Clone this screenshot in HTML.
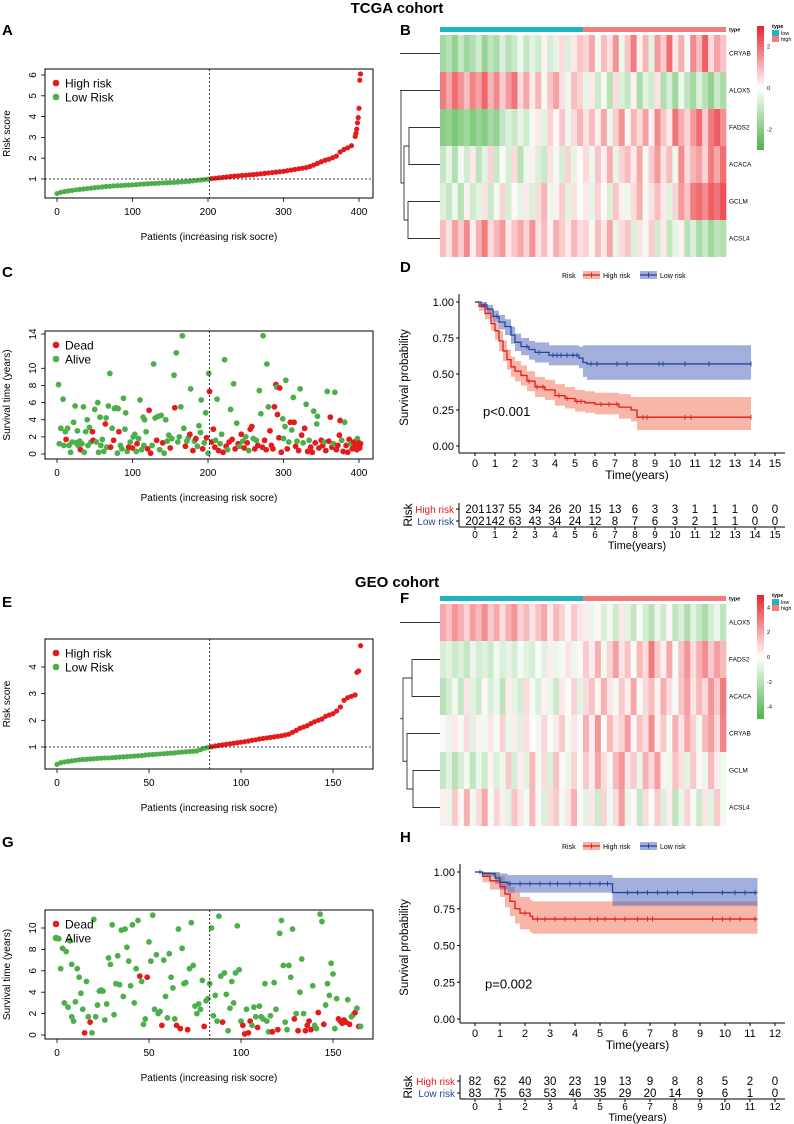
<!DOCTYPE html>
<html><head><meta charset="utf-8">
<style>
html,body{margin:0;padding:0;background:#fff;}
svg{display:block;font-family:"Liberation Sans",Arial,sans-serif;}
</style></head>
<body>
<svg id="fig" width="794" height="1124" viewBox="0 0 794 1124" xmlns="http://www.w3.org/2000/svg">
<text x="397" y="13" text-anchor="middle" font-size="15" font-weight="bold">TCGA cohort</text>
<text x="397" y="587" text-anchor="middle" font-size="15" font-weight="bold">GEO cohort</text>
<text x="2" y="35" font-size="15" font-weight="bold">A</text>
<text x="400" y="35" font-size="15" font-weight="bold">B</text>
<text x="2" y="277" font-size="15" font-weight="bold">C</text>
<text x="400" y="272" font-size="15" font-weight="bold">D</text>
<text x="2" y="607" font-size="15" font-weight="bold">E</text>
<text x="400" y="603" font-size="15" font-weight="bold">F</text>
<text x="2" y="847" font-size="15" font-weight="bold">G</text>
<text x="400" y="842" font-size="15" font-weight="bold">H</text>
</svg>
<script>
// ---------- DATA ----------
const tcgaRisk = [[0,0.30],[5,0.36],[10,0.40],[15,0.43],[20,0.45],[25,0.48],[30,0.50],[35,0.52],[40,0.54],[45,0.56],[50,0.58],[55,0.60],[60,0.62],[65,0.64],[70,0.65],[75,0.67],[80,0.68],[85,0.69],[90,0.70],[95,0.71],[100,0.72],[105,0.73],[110,0.75],[115,0.76],[120,0.77],[125,0.78],[130,0.79],[135,0.80],[140,0.81],[145,0.82],[150,0.83],[155,0.84],[160,0.85],[165,0.86],[170,0.88],[175,0.89],[180,0.91],[185,0.93],[190,0.95],[195,0.97],[200,0.99],[205,1.02],[210,1.04],[215,1.06],[220,1.08],[225,1.10],[230,1.12],[235,1.14],[240,1.15],[245,1.17],[250,1.18],[255,1.20],[260,1.21],[265,1.23],[270,1.25],[275,1.27],[280,1.29],[285,1.31],[290,1.33],[295,1.35],[300,1.37],[305,1.40],[310,1.43],[315,1.46],[320,1.49],[325,1.52],[330,1.55],[335,1.60],[340,1.67],[345,1.75],[350,1.83],[355,1.90],[360,1.95],[365,2.02],[370,2.10],[375,2.30],[380,2.42],[385,2.50],[390,2.60],[395,3.05],[396,3.2],[397,3.4],[398,3.7],[399,3.95],[400,4.40],[401,5.75],[402,6.05]];
const tcgaCut = 202;
const geoRisk = [[0,0.35],[2,0.41],[4,0.44],[6,0.46],[8,0.48],[10,0.50],[12,0.52],[14,0.53],[16,0.54],[18,0.55],[20,0.56],[22,0.57],[24,0.58],[26,0.59],[28,0.59],[30,0.60],[32,0.61],[34,0.62],[36,0.63],[38,0.64],[40,0.65],[42,0.66],[44,0.67],[46,0.68],[48,0.70],[50,0.71],[52,0.72],[54,0.73],[56,0.74],[58,0.75],[60,0.76],[62,0.77],[64,0.78],[66,0.80],[68,0.81],[70,0.82],[72,0.83],[74,0.84],[76,0.85],[78,0.90],[80,0.95],[82,0.98],[84,1.01],[86,1.04],[88,1.06],[90,1.08],[92,1.10],[94,1.12],[96,1.14],[98,1.16],[100,1.18],[102,1.20],[104,1.22],[106,1.25],[108,1.27],[110,1.30],[112,1.32],[114,1.34],[116,1.36],[118,1.38],[120,1.40],[122,1.42],[124,1.45],[126,1.48],[128,1.55],[130,1.62],[132,1.70],[134,1.75],[136,1.80],[138,1.88],[140,1.95],[142,2.00],[144,2.05],[146,2.15],[148,2.20],[150,2.25],[152,2.35],[154,2.50],[156,2.75],[158,2.85],[160,2.90],[162,2.95],[163,3.80],[164,3.85],[165,4.80]];
const geoCut = 83;

const tcgaSurv = [[2,8.1,0],[3,1.2,0],[5,3.0,0],[8,6.4,0],[9,1.0,0],[11,2.6,0],[12,1.7,1],[14,3.0,0],[16,1.0,0],[18,0.2,0],[20,1.4,0],[22,3.7,0],[24,5.6,0],[25,1.3,0],[27,2.7,0],[28,1.0,0],[30,1.5,0],[31,0.5,1],[33,1.2,0],[35,5.5,0],[36,0.2,0],[38,2.6,0],[40,4.0,0],[41,1.0,0],[43,3.1,0],[45,1.4,0],[47,2.6,1],[48,1.6,1],[50,5.2,0],[52,1.4,0],[54,6.0,0],[55,0.2,0],[57,4.3,0],[58,1.0,0],[60,1.7,0],[62,0.3,0],[64,3.5,1],[65,4.2,0],[66,0.8,0],[68,5.6,0],[70,9.4,0],[71,0.8,1],[73,3.0,0],[75,1.6,1],[76,5.3,0],[78,5.4,0],[80,0.1,0],[81,5.3,0],[82,2.6,1],[84,1.0,0],[86,0.6,0],[88,6.5,0],[90,2.9,0],[91,4.8,0],[93,0.3,0],[95,0.8,1],[97,1.4,0],[100,0.7,1],[101,2.0,0],[103,2.3,0],[105,0.3,0],[106,1.2,1],[108,1.8,0],[110,6.3,0],[112,0.5,0],[114,4.3,0],[115,1.0,0],[116,4.0,0],[118,2.6,0],[120,0.6,1],[122,5.1,1],[124,0.1,1],[126,1.0,0],[128,10.5,0],[130,4.2,0],[132,1.6,1],[134,4.4,0],[136,0.5,0],[138,4.5,0],[140,1.3,1],[142,0.1,0],[144,4.0,0],[146,1.5,0],[148,2.2,0],[150,0.7,1],[152,1.8,0],[155,9.2,0],[156,5.4,1],[158,11.8,0],[160,1.4,0],[162,2.0,0],[164,5.5,0],[166,13.8,0],[168,3.0,0],[170,0.9,1],[172,1.5,0],[174,1.9,0],[176,2.3,1],[177,7.6,0],[180,0.4,1],[182,1.5,0],[184,1.8,1],[186,0.9,0],[188,3.3,0],[190,2.5,0],[191,6.3,0],[193,0.6,1],[195,1.3,0],[197,4.8,0],[198,1.9,1],[200,0.1,0],[201,9.4,0],[202,7.3,1],[205,1.4,1],[207,2.9,1],[209,0.8,1],[210,1.6,0],[212,6.4,0],[214,0.4,1],[216,1.2,0],[218,2.3,0],[220,0.2,1],[222,11.0,0],[224,0.9,1],[226,0.5,0],[228,1.4,1],[230,5.2,0],[232,1.7,1],[234,8.2,0],[236,0.6,1],[238,3.6,0],[240,1.2,1],[242,0.9,0],[244,2.3,1],[246,1.5,0],[248,0.7,1],[250,2.0,0],[252,1.3,1],[254,0.4,0],[256,2.9,1],[258,3.2,1],[260,1.8,0],[262,0.6,1],[264,1.6,0],[266,1.0,1],[268,7.4,0],[270,4.7,0],[272,0.8,1],[273,13.8,0],[275,1.6,1],[277,0.5,1],[278,10.5,0],[280,5.5,0],[282,2.7,1],[284,1.0,1],[286,0.6,1],[288,5.5,1],[290,8.1,1],[291,7.8,0],[292,4.6,1],[294,1.9,1],[295,7.7,1],[297,0.2,1],[299,4.1,0],[300,1.8,0],[302,3.2,0],[303,8.6,0],[305,0.6,1],[307,1.4,0],[309,3.7,1],[311,2.8,0],[313,6.6,0],[314,3.7,1],[316,0.9,1],[318,1.5,0],[320,0.4,1],[322,7.6,0],[324,2.2,1],[326,1.3,0],[328,3.0,1],[330,5.8,0],[332,0.3,1],[334,1.6,0],[336,0.8,1],[338,0.2,1],[340,5.0,0],[342,1.3,1],[344,3.5,0],[345,4.4,0],[347,0.7,1],[350,1.6,1],[352,1.0,1],[354,1.4,0],[356,0.4,1],[358,7.3,0],[360,1.5,1],[362,4.3,1],[364,0.8,1],[366,1.2,0],[368,7.2,0],[370,0.5,1],[372,1.0,1],[374,2.2,1],[375,3.9,1],[377,1.6,0],[379,0.3,1],[381,3.7,0],[383,1.0,1],[385,0.2,1],[387,1.7,1],[389,1.2,0],[391,0.6,1],[393,1.4,1],[395,0.9,1],[397,0.5,1],[398,1.8,0],[399,1.0,1],[400,1.3,1],[401,0.7,1],[402,1.2,1]];
const geoSurv = [[1,9.0,0],[2,6.2,0],[3,8.1,0],[4,3.0,0],[5,7.8,0],[6,2.6,0],[7,8.8,0],[8,6.6,0],[8,1.7,0],[9,1.3,0],[10,3.1,0],[11,6.2,0],[12,5.4,0],[13,3.9,0],[14,2.4,0],[15,0.2,1],[16,5.0,0],[17,1.7,0],[18,1.2,1],[19,0.2,0],[20,10.8,0],[21,1.7,0],[22,2.8,0],[23,4.1,0],[24,4.2,0],[25,4.1,0],[26,1.4,0],[27,2.9,0],[28,7.2,0],[29,6.6,0],[30,10.3,0],[31,1.9,0],[32,4.8,0],[33,7.4,0],[34,4.7,0],[35,9.8,0],[36,3.6,0],[37,9.9,0],[38,8.2,0],[39,6.9,0],[40,4.6,0],[41,10.3,0],[42,3.0,0],[43,6.2,0],[44,10.7,0],[45,5.5,1],[46,5.0,0],[47,1.0,0],[48,1.5,0],[49,5.4,1],[50,8.7,0],[51,6.9,0],[52,11.2,0],[53,2.4,0],[54,7.5,0],[55,2.0,0],[56,2.2,0],[57,0.9,1],[58,7.0,0],[59,3.6,0],[60,1.6,0],[61,7.6,0],[62,5.4,0],[63,4.4,0],[64,1.5,0],[65,0.9,1],[66,9.9,0],[67,0.6,1],[68,8.1,0],[69,4.8,0],[70,4.9,0],[71,0.5,1],[72,6.2,0],[73,10.5,0],[74,6.5,0],[75,2.7,0],[76,2.0,0],[77,2.9,0],[78,2.4,0],[79,5.1,0],[80,0.8,1],[81,3.2,0],[82,3.4,0],[83,4.8,0],[84,10.0,0],[85,1.8,0],[86,3.7,0],[87,1.3,0],[88,11.1,0],[89,5.5,0],[90,1.2,1],[91,5.8,0],[92,3.8,0],[93,0.4,0],[94,2.5,0],[95,5.0,0],[96,3.0,0],[97,5.8,0],[98,10.2,0],[99,6.1,0],[100,1.3,0],[101,0.9,1],[102,0.1,1],[103,2.4,0],[104,0.2,1],[105,1.3,1],[106,0.9,0],[107,2.6,0],[108,1.7,0],[109,0.7,1],[110,2.7,0],[111,1.7,0],[112,1.5,0],[113,4.8,0],[114,1.3,0],[115,0.3,0],[116,1.8,0],[117,0.3,1],[118,4.9,0],[119,2.4,0],[120,0.5,1],[121,9.5,0],[122,10.7,0],[123,6.5,0],[124,1.2,0],[125,0.5,0],[126,6.5,0],[127,5.4,0],[128,9.9,0],[129,1.5,1],[130,2.0,0],[131,0.4,1],[132,4.0,0],[133,7.1,0],[134,2.0,0],[135,0.4,1],[136,0.9,1],[137,1.3,1],[138,0.5,1],[139,4.6,0],[140,0.9,0],[141,0.6,0],[142,2.1,1],[143,11.3,0],[144,10.6,0],[145,1.0,1],[146,2.8,0],[147,4.8,0],[148,3.7,0],[149,6.7,0],[150,5.7,0],[151,0.6,0],[152,3.4,0],[153,1.5,1],[154,1.3,1],[155,1.1,1],[156,1.4,1],[157,1.2,1],[158,3.3,0],[159,1.0,1],[160,1.7,0],[161,1.9,0],[162,2.1,1],[163,2.5,0],[164,0.8,1],[165,0.8,0]];

const tcgaGenes = ["CRYAB","ALOX5","FADS2","ACACA","GCLM","ACSL4"];
const tcgaHeat = [
[-1.5,-1.2,-1.8,-1.0,-1.6,-1.3,-0.8,-1.7,-1.1,-1.4,-0.6,-1.2,-0.9,-0.3,-1.0,-0.5,-0.8,0.2,-0.7,-0.4,0.5,-0.6,0.3,0.8,0.6,1.2,-0.2,0.9,0.4,1.5,-0.3,0.8,1.8,0.2,1.0,-0.5,1.4,0.7,2.0,0.3,1.1,-0.2,1.6,0.9,2.2,0.5,1.3,0.8],
[1.8,1.2,2.0,1.5,0.9,1.7,1.3,2.1,1.0,1.6,0.7,1.4,1.9,0.5,1.2,0.3,1.0,-0.2,0.8,1.3,0.4,-0.3,0.9,0.6,-0.4,0.3,-0.9,-0.2,-1.2,0.5,-0.6,-1.0,0.2,-1.4,-0.5,-0.8,0.4,-1.3,-0.7,-1.6,-0.3,-1.1,-1.5,-0.6,-1.2,-1.8,-0.9,-1.4],
[-2.0,-1.8,-2.2,-1.9,-1.6,-2.1,-1.7,-2.0,-1.5,-1.8,-1.0,-0.6,-0.9,-0.4,-0.8,-0.2,0.3,-0.5,0.6,0.1,0.8,-0.3,0.5,1.0,0.4,0.9,0.2,1.2,-0.3,0.7,1.5,0.1,1.0,0.5,1.3,0.2,1.6,0.8,0.3,1.9,1.1,0.6,1.4,2.0,0.7,1.8,2.2,1.5],
[-1.0,-0.4,-1.3,-0.2,-0.8,0.3,-1.1,-0.5,0.6,-0.9,-0.1,-0.7,0.5,-1.2,-0.3,0.2,-0.6,-0.9,0.4,-0.2,-0.7,0.6,-0.4,0.1,0.5,-0.3,0.8,0.2,1.1,-0.4,0.6,0.9,0.3,1.2,-0.2,0.7,1.4,0.4,0.9,-0.3,1.6,0.5,1.0,1.3,0.6,1.8,1.2,2.0],
[-0.6,-1.0,-0.3,-1.2,0.2,-0.8,-0.5,0.4,-0.9,-0.2,0.6,-0.7,0.1,-0.4,0.3,-0.6,0.5,1.0,-0.3,0.2,0.7,-0.5,0.4,-0.1,0.3,-0.4,0.6,0.1,-0.6,0.8,0.2,-0.3,0.5,1.1,-0.2,0.4,0.9,0.3,-0.5,0.6,1.4,0.8,1.8,2.0,1.6,2.2,1.9,2.4],
[0.9,0.4,1.3,0.7,1.6,0.2,1.1,1.8,0.5,1.0,1.4,0.3,0.8,1.2,0.6,1.5,0.4,0.9,0.2,1.1,0.7,0.3,1.0,0.5,0.6,-0.2,0.9,0.3,1.2,-0.4,0.5,0.8,-0.6,0.4,-0.2,0.7,-0.8,0.3,-1.0,-0.4,0.2,-1.2,-0.6,-1.4,-0.9,-1.6,-1.1,-1.3]];
const geoGenes = ["ALOX5","FADS2","ACACA","CRYAB","GCLM","ACSL4"];
const geoHeat = [
[2.0,1.4,2.4,1.8,1.0,2.2,1.6,2.6,1.2,2.0,0.8,1.8,2.4,1.0,1.6,0.6,1.4,2.0,0.4,1.6,1.0,0.2,1.2,0.6,0.4,-0.6,0.2,-1.0,-0.4,-1.4,0.6,-0.8,-1.6,-0.2,-1.2,-2.0,-0.6,-1.4,0.2,-1.8,-1.0,-2.2,-0.8,-1.6,-2.4,-1.2,-0.6,-1.8],
[-1.2,-0.8,-1.4,-1.0,-1.6,-0.6,-1.2,-0.9,-1.4,-0.4,-1.0,-0.7,-1.2,-0.3,-0.8,-1.1,-0.2,-0.9,0.4,-0.6,-0.3,0.6,-0.5,0.2,1.2,0.4,1.8,-0.4,1.0,2.2,0.6,1.4,-0.2,1.6,0.8,3.0,1.2,0.4,2.0,-0.3,1.4,2.4,0.8,1.8,2.6,1.2,2.2,1.6],
[-2.0,-1.2,-0.4,-1.6,0.6,-0.8,-1.4,0.2,-1.0,-0.5,-1.8,0.4,-0.7,-1.2,0.8,-0.3,-1.0,0.3,-0.6,-1.4,0.5,-0.2,1.0,-0.8,0.8,1.4,0.2,1.8,0.6,-0.4,1.2,0.4,2.0,-0.2,0.9,1.5,0.3,1.8,0.7,-0.3,1.3,2.2,0.6,1.6,0.9,2.4,1.2,3.0],
[0.2,-0.6,0.5,-0.3,0.8,-0.8,0.3,-0.4,0.6,-0.2,1.0,-0.5,0.4,-0.9,0.7,0.1,-0.4,0.9,-0.2,0.5,1.2,-0.3,0.6,0.2,1.8,0.4,2.4,-0.2,1.6,0.6,1.0,2.2,0.2,1.4,0.8,2.6,0.4,1.2,-0.3,1.8,0.6,2.0,1.0,-0.4,1.6,2.2,0.8,2.8],
[-1.6,-0.8,-2.0,-1.2,-0.4,-1.8,-0.6,-1.4,0.3,-1.0,-0.5,1.2,-1.2,0.4,-0.8,1.6,-0.3,0.8,-1.0,1.4,0.2,-0.6,1.0,-0.2,1.2,0.4,2.0,0.8,-0.4,1.6,2.4,0.6,1.2,-0.6,1.8,0.9,2.2,0.3,-0.5,1.4,0.7,-0.8,1.2,0.2,-0.6,1.6,0.4,-0.4],
[0.4,-0.6,1.2,0.2,1.8,-0.4,0.8,2.0,-0.2,1.0,0.4,-0.8,1.4,0.6,-0.3,1.6,0.2,-1.0,0.8,1.2,-0.4,0.6,1.8,0.2,-0.8,0.6,-1.4,1.0,-0.4,0.8,2.2,-0.6,0.2,-1.6,0.8,-0.2,1.2,-1.0,0.4,-1.8,-0.6,1.0,-0.3,-1.4,0.6,-0.8,1.2,-0.4]];

// KM data (time, survival)
const dHighT = [0,0.2,0.5,0.8,1.0,1.2,1.4,1.6,1.8,2.0,2.3,2.6,3.0,3.5,4.0,4.5,5.0,5.5,6.0,7.2,7.8,8.1,13.8];
const dHighS = [1,0.97,0.92,0.85,0.80,0.73,0.66,0.60,0.55,0.52,0.49,0.45,0.41,0.39,0.35,0.33,0.31,0.30,0.29,0.27,0.25,0.20,0.20];
const dHighU = [1,0.99,0.96,0.91,0.86,0.80,0.73,0.67,0.62,0.59,0.56,0.52,0.48,0.46,0.43,0.41,0.39,0.38,0.37,0.36,0.34,0.34,0.34];
const dHighL = [1,0.94,0.88,0.80,0.74,0.66,0.59,0.53,0.48,0.45,0.42,0.38,0.34,0.32,0.28,0.26,0.24,0.23,0.22,0.19,0.17,0.11,0.11];
const dLowT = [0,0.3,0.6,0.9,1.2,1.5,1.8,2.0,2.3,2.7,3.0,3.7,5.2,5.4,5.6,13.8];
const dLowS = [1,0.98,0.95,0.90,0.86,0.83,0.77,0.72,0.69,0.67,0.65,0.63,0.61,0.58,0.57,0.57];
const dLowU = [1,1.0,0.98,0.94,0.91,0.88,0.83,0.78,0.75,0.73,0.72,0.70,0.69,0.70,0.70,0.70];
const dLowL = [1,0.96,0.92,0.86,0.81,0.77,0.71,0.66,0.63,0.60,0.58,0.56,0.54,0.48,0.46,0.46];
const dCensHigh = [2.7,3.1,3.4,4.2,4.6,5.1,5.3,6.3,6.7,7.1,8.4,8.6,10.5,10.8,13.8];
const dCensLow = [0.5,1.1,2.6,3.2,3.9,4.1,4.3,4.6,4.9,5.1,5.8,6.1,7.1,7.6,9.2,9.4,10.5,11.7,13.8];
const hHighT = [0,0.3,0.6,1.0,1.2,1.4,1.6,1.8,2.2,2.3,11.3];
const hHighS = [1,0.97,0.94,0.90,0.85,0.80,0.75,0.72,0.70,0.68,0.68];
const hHighU = [1,1,0.99,0.97,0.94,0.90,0.86,0.83,0.81,0.80,0.80];
const hHighL = [1,0.93,0.88,0.83,0.76,0.70,0.65,0.61,0.59,0.58,0.58];
const hLowT = [0,0.3,0.8,1.0,1.3,5.5,11.3];
const hLowS = [1,0.99,0.96,0.93,0.92,0.86,0.86];
const hLowU = [1,1,1,0.99,0.98,0.96,0.96];
const hLowL = [1,0.97,0.92,0.88,0.86,0.77,0.77];
const hCensHigh = [2.0,2.5,2.8,3.2,3.6,4.0,4.6,4.9,5.2,5.6,6.0,6.5,6.9,7.1,9.5,9.9,10.2,10.6,11.2];
const hCensLow = [0.2,1.4,1.8,2.2,2.6,3.0,3.3,3.8,4.2,4.6,5.0,5.3,6.1,6.5,6.9,7.3,7.7,8.1,8.7,9.9,10.4,10.8,11.2];
// number at risk
const dTableTimes = [0,1,2,3,4,5,6,7,8,9,10,11,12,13,14,15];
const dHighRisk = [201,137,55,34,26,20,15,13,6,3,3,1,1,1,0,0];
const dLowRisk = [202,142,63,43,34,24,12,8,7,6,3,2,1,1,0,0];
const hTableTimes = [0,1,2,3,4,5,6,7,8,9,10,11,12];
const hHighRisk = [82,62,40,30,23,19,13,9,8,8,5,2,0];
const hLowRisk = [83,75,63,53,46,35,29,20,14,9,6,1,0];

// ---------- RENDER ----------
const NS='http://www.w3.org/2000/svg';
const svg=document.getElementById('fig');
function el(tag,attrs,parent,txt){const e=document.createElementNS(NS,tag);for(const k in attrs)e.setAttribute(k,attrs[k]);if(txt!==undefined)e.textContent=txt;(parent||svg).appendChild(e);return e;}
const RED='#E41A1C',GREEN='#4DAF4A';

function basePlot(box,xDom,xTicks,yDom,yTicks,yTitle,name){
  const g=el('g',{});
  
  
  const sx=v=>box.x0+(v-xDom[0])/(xDom[1]-xDom[0])*(box.x1-box.x0);
  const sy=v=>box.y0-(v-yDom[0])/(yDom[1]-yDom[0])*(box.y0-box.y1);
  xTicks.forEach(t=>{const x=sx(t);el('line',{x1:x,x2:x,y1:box.by,y2:box.by+4,stroke:'#000','stroke-width':0.8},g);
    const tx=el('text',{x:x,y:box.by+17,'font-size':10,'text-anchor':'middle'},g,String(t));});
  yTicks.forEach(t=>{const y=sy(t);el('line',{x1:box.bx-4,x2:box.bx,y1:y,y2:y,stroke:'#000','stroke-width':0.8},g);
    const tx=el('text',{x:box.bx-9,y:y,'font-size':10,'text-anchor':'middle',transform:`rotate(-90 ${box.bx-9} ${y})`},g,String(t));});
  const xt=el('text',{x:(box.bx+box.bx2)/2,y:box.by+42,'font-size':10,'text-anchor':'middle'},g,'Patients (increasing risk socre)');
  
  const yt=el('text',{x:0,y:0,'font-size':10,'text-anchor':'middle',transform:`translate(10 ${(box.by+box.ty)/2}) rotate(-90)`},g,yTitle);
  
  return {g,sx,sy};
}
function frame(g,box){const r=el('rect',{x:box.bx,y:box.ty,width:box.bx2-box.bx,height:box.by-box.ty,fill:'none',stroke:'#000','stroke-width':1},g);}
function legend(g,x,y,items){items.forEach((it,i)=>{el('circle',{cx:x,cy:y+i*14,r:3.3,fill:it[1]},g);const t=el('text',{x:x+9,y:y+i*14+4.5,'font-size':12},g,it[0]);});}

function riskPlot(data,cut,box,xDom,xTicks,yDom,yTicks,name){
  const p=basePlot(box,xDom,xTicks,yDom,yTicks,'Risk score',name);
  data.forEach(d=>{const c=el('circle',{cx:p.sx(d[0]),cy:p.sy(d[1]),r:2.6,fill:d[0]<cut?GREEN:RED},p.g);});
  el('line',{x1:box.bx,x2:box.bx2,y1:p.sy(1),y2:p.sy(1),stroke:'#000','stroke-dasharray':'2,2','stroke-width':0.8},p.g);
  el('line',{x1:p.sx(cut),x2:p.sx(cut),y1:box.ty,y2:box.by,stroke:'#000','stroke-dasharray':'2,2','stroke-width':0.8},p.g);
  frame(p.g,box);
  legend(p.g,box.bx+11,box.ty+14,[['High risk',RED],['Low Risk',GREEN]]);
}
function survPlot(data,cut,box,xDom,xTicks,yDom,yTicks,name){
  const p=basePlot(box,xDom,xTicks,yDom,yTicks,'Survival time (years)',name);
  data.forEach(d=>{const c=el('circle',{cx:p.sx(d[0]),cy:p.sy(d[1]),r:2.9,fill:d[2]?RED:GREEN},p.g);});
  el('line',{x1:p.sx(cut),x2:p.sx(cut),y1:box.ty,y2:box.by,stroke:'#000','stroke-dasharray':'2,2','stroke-width':0.8},p.g);
  frame(p.g,box);
  legend(p.g,box.bx+11,box.ty+14,[['Dead',RED],['Alive',GREEN]]);
}
riskPlot(tcgaRisk,tcgaCut,{bx:45,bx2:373,ty:69,by:198,x0:57,x1:359,y0:179,y1:75},[0,400],[0,100,200,300,400],[1,6],[1,2,3,4,5,6],'risk-score-plot-tcga');
survPlot(tcgaSurv,tcgaCut,{bx:45,bx2:373,ty:331,by:459,x0:57,x1:359,y0:454,y1:334},[0,400],[0,100,200,300,400],[0,14],[0,2,4,6,8,10,14],'survival-status-plot-tcga');
riskPlot(geoRisk,geoCut,{bx:45,bx2:373,ty:639,by:769,x0:57,x1:333,y0:747,y1:667},[0,150],[0,50,100,150],[1,4],[1,2,3,4],'risk-score-plot-geo');
survPlot(geoSurv,geoCut,{bx:45,bx2:373,ty:910,by:1039,x0:57,x1:333,y0:1035,y1:928},[0,150],[0,50,100,150],[0,10],[0,2,4,6,8,10],'survival-status-plot-geo');

// ---- Heatmaps ----
function heatColor(v,max){const f=Math.max(-1,Math.min(1,v/max));
  if(f>=0){return `rgb(${Math.round(255-(255-232)*f)},${Math.round(255-(255-36)*f)},${Math.round(255-(255-43)*f)})`;}
  const a=-f;return `rgb(${Math.round(255-(255-77)*a)},${Math.round(255-(255-180)*a)},${Math.round(255-(255-74)*a)})`;}
function heatmap(genes,data,top,max,cbLabels,dendro,name){
  const g=el('g',{});
  const x0=440,x1=726,rowH=37;const n=data[0].length;const cw=(x1-x0)/n;
  const tl=el('rect',{x:x0,y:top-8,width:(x1-x0)/2,height:5,fill:'#1FB5BF'},g);
  const th=el('rect',{x:(x0+x1)/2,y:top-8,width:(x1-x0)/2,height:5,fill:'#F07C7C'},g);
  el('text',{x:729,y:top-3.5,'font-size':5.5,'font-weight':'bold'},g,'type');
  data.forEach((row,r)=>{row.forEach((v,c)=>{const cell=el('rect',{x:x0+c*cw,y:top+r*rowH,width:cw+0.3,height:rowH,fill:heatColor(v,max)},g);});
    const gl=el('text',{x:729,y:top+r*rowH+rowH/2+2,'font-size':6.5},g,genes[r]);});
  const gid='cb'+name;const defs=el('defs',{},g);const lg=el('linearGradient',{id:gid,x1:0,y1:0,x2:0,y2:1},defs);
  el('stop',{offset:'0','stop-color':'#E8242B'},lg);el('stop',{offset:'0.5','stop-color':'#ffffff'},lg);el('stop',{offset:'1','stop-color':'#4DB44A'},lg);
  const cb=el('rect',{x:757,y:top-9,width:7,height:124,fill:`url(#${gid})`},g);
  cbLabels.forEach(l=>{el('text',{x:767,y:top-9+62-l/max*62+2,'font-size':5.5},g,String(l));});
  el('text',{x:772,y:top-7,'font-size':5.5,'font-weight':'bold'},g,'type');
  el('rect',{x:772,y:top-5,width:7,height:6,fill:'#1FB5BF'},g);el('text',{x:781,y:top,'font-size':5.5},g,'low');
  el('rect',{x:772,y:top+1,width:7,height:6,fill:'#F07C7C'},g);el('text',{x:781,y:top+6,'font-size':5.5},g,'high');
  dendro.forEach(s=>el('polyline',{points:s.map(p=>p[0]+','+(top+p[1]*rowH)).join(' '),fill:'none',stroke:'#333','stroke-width':0.9},g));
}
heatmap(tcgaGenes,tcgaHeat,35,3,[2,0,-2],[
 [[400,0.5],[440,0.5]],[[400,1.5],[440,1.5]],
 [[440,2.5],[409,2.5],[409,3.5],[440,3.5]],[[440,4.5],[408,4.5],[408,5.5],[440,5.5]],
 [[409,3],[404,3],[404,5],[408,5]],[[404,4],[401,4],[401,1.5]]],'heatmap-tcga');
heatmap(geoGenes,geoHeat,604,5,[4,2,0,-2,-4],[
 [[400,0.5],[440,0.5]],[[440,1.5],[412,1.5],[412,2.5],[440,2.5]],
 [[440,4.5],[413,4.5],[413,5.5],[440,5.5]],[[440,3.5],[407,3.5],[407,5],[413,5]],
 [[412,2],[403,2],[403,4.25],[407,4.25]],[[403,3.1],[400,3.1]]],'heatmap-geo');

// ---- KM ----
function stepPts(T,S,sx,sy){let pts=[];for(let i=0;i<T.length;i++){if(i>0)pts.push([sx(T[i]),sy(S[i-1])]);pts.push([sx(T[i]),sy(S[i])]);}return pts;}
function survAt(T,S,t){let s=S[0];for(let i=0;i<T.length;i++){if(T[i]<=t)s=S[i];}return s;}
function km(cfg){
  const g=el('g',{});
  const sx=t=>cfg.x0+t*cfg.px, sy=s=>cfg.y0-s*cfg.py;
  const series=[[cfg.hT,cfg.hS,cfg.hU,cfg.hL,cfg.hC,'#E41A1C','rgba(240,110,80,0.5)','high-risk'],[cfg.lT,cfg.lS,cfg.lU,cfg.lL,cfg.lC,'#27449A','rgba(70,95,185,0.5)','low-risk']];
  series.forEach(s=>{const up=stepPts(s[0],s[2],sx,sy),lo=stepPts(s[0],s[3],sx,sy).reverse();
    const band=el('polygon',{points:up.concat(lo).map(p=>p.join(',')).join(' '),fill:s[6]},g);});
  series.forEach(s=>{const ln=el('polyline',{points:stepPts(s[0],s[1],sx,sy).map(p=>p.join(',')).join(' '),fill:'none',stroke:s[5],'stroke-width':1.3},g);
    s[4].forEach(t=>{const y=sy(survAt(s[0],s[1],t)),x=sx(t);el('line',{x1:x,x2:x,y1:y-2.5,y2:y+2.5,stroke:s[5],'stroke-width':0.9},g);});});
  el('line',{x1:cfg.ax,x2:cfg.ax,y1:sy(1)-8,y2:cfg.ay,stroke:'#000','stroke-width':1},g);
  el('line',{x1:cfg.ax,x2:785,y1:cfg.ay,y2:cfg.ay,stroke:'#000','stroke-width':1},g);
  [0,0.25,0.5,0.75,1].forEach(v=>{const y=sy(v);el('line',{x1:cfg.ax-3,x2:cfg.ax,y1:y,y2:y,stroke:'#000'},g);const t=el('text',{x:cfg.ax-5,y:y+4,'font-size':11,'text-anchor':'end'},g,v.toFixed(2));});
  cfg.ticks.forEach(v=>{const x=sx(v);el('line',{x1:x,x2:x,y1:cfg.ay,y2:cfg.ay+3,stroke:'#000'},g);const t=el('text',{x:x,y:cfg.ay+14,'font-size':11,'text-anchor':'middle'},g,String(v));});
  const xt=el('text',{x:(cfg.ax+785)/2+15,y:cfg.ay+26,'font-size':12,'text-anchor':'middle'},g,'Time(years)');
  const yt=el('text',{x:0,y:0,'font-size':11.5,'text-anchor':'middle',transform:`translate(408 ${(sy(1)+cfg.ay)/2}) rotate(-90)`},g,'Survival probability');
  const pv=el('text',{x:sx(0.4),y:sy(0.2)-1,'font-size':13},g,cfg.p);
  const ly=cfg.legY;el('text',{x:562,y:ly+3,'font-size':7},g,'Risk');
  el('rect',{x:583,y:ly-4,width:17,height:8,fill:'rgba(240,110,80,0.5)'},g);el('line',{x1:583,x2:600,y1:ly,y2:ly,stroke:'#E41A1C','stroke-width':1.3},g);el('line',{x1:591.5,x2:591.5,y1:ly-2.5,y2:ly+2.5,stroke:'#E41A1C'},g);
  const l1=el('text',{x:603,y:ly+3,'font-size':7},g,'High risk');
  el('rect',{x:640,y:ly-4,width:17,height:8,fill:'rgba(70,95,185,0.5)'},g);el('line',{x1:640,x2:657,y1:ly,y2:ly,stroke:'#27449A','stroke-width':1.3},g);el('line',{x1:648.5,x2:648.5,y1:ly-2.5,y2:ly+2.5,stroke:'#27449A'},g);
  const l2=el('text',{x:660,y:ly+3,'font-size':7},g,'Low risk');
  const tb=el('g',{},g);
  const ty=cfg.tabY;
  el('text',{x:0,y:0,'font-size':12,'text-anchor':'middle',transform:`translate(412 ${ty+6}) rotate(-90)`},tb,'Risk');
  el('text',{x:cfg.ax-5,y:ty+4,'font-size':10,'text-anchor':'end',fill:'#E41A1C'},tb,'High risk');
  el('text',{x:cfg.ax-5,y:ty+16,'font-size':10,'text-anchor':'end',fill:'#27449A'},tb,'Low risk');
  el('line',{x1:cfg.ax,x2:cfg.ax,y1:ty-6,y2:ty+18,stroke:'#000'},tb);
  el('line',{x1:cfg.ax-3,x2:cfg.ax,y1:ty,y2:ty,stroke:'#000'},tb);el('line',{x1:cfg.ax-3,x2:cfg.ax,y1:ty+12,y2:ty+12,stroke:'#000'},tb);
  el('line',{x1:cfg.ax,x2:785,y1:ty+18,y2:ty+18,stroke:'#000'},tb);
  cfg.tt.forEach((t,i)=>{const x=sx(t);
    el('text',{x:x,y:ty+4,'font-size':11.5,'text-anchor':'middle'},tb,String(cfg.hr[i]));
    el('text',{x:x,y:ty+16,'font-size':11.5,'text-anchor':'middle'},tb,String(cfg.lr[i]));
    el('line',{x1:x,x2:x,y1:ty+18,y2:ty+21,stroke:'#000'},tb);
    el('text',{x:x,y:ty+29,'font-size':10,'text-anchor':'middle'},tb,String(t));});
  el('text',{x:(cfg.ax+785)/2+15,y:ty+40,'font-size':11,'text-anchor':'middle'},tb,'Time(years)');
}
km({name:'km-plot-tcga',x0:475,px:20,y0:446,py:144,ax:459,ay:453,ticks:dTableTimes,p:'p<0.001',legY:275,tabY:509,
 hT:dHighT,hS:dHighS,hU:dHighU,hL:dHighL,hC:dCensHigh,lT:dLowT,lS:dLowS,lU:dLowU,lL:dLowL,lC:dCensLow,tt:dTableTimes,hr:dHighRisk,lr:dLowRisk});
km({name:'km-plot-geo',x0:475,px:25,y0:1019,py:147,ax:460,ay:1023,ticks:hTableTimes,p:'p=0.002',legY:846,tabY:1081,
 hT:hHighT,hS:hHighS,hU:hHighU,hL:hHighL,hC:hCensHigh,lT:hLowT,lS:hLowS,lU:hLowU,lL:hLowL,lC:hCensLow,tt:hTableTimes,hr:hHighRisk,lr:hLowRisk});
</script>
</body></html>
